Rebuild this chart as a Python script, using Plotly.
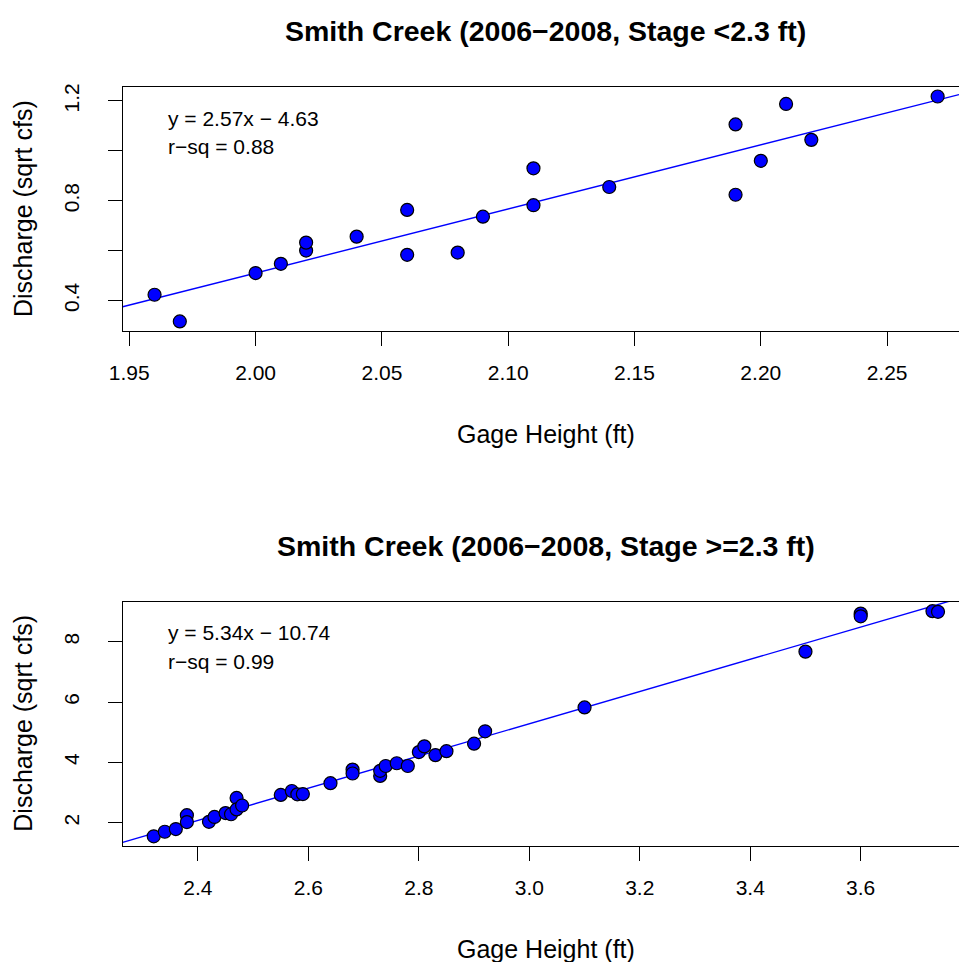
import plotly.graph_objects as go

# ---------------- data ----------------
top_x = [1.96, 1.97, 2.00, 2.01, 2.02, 2.02, 2.04, 2.06, 2.06, 2.08, 2.09, 2.11, 2.11,
         2.14, 2.19, 2.19, 2.20, 2.21, 2.22, 2.27]
top_y = [0.423, 0.316, 0.510, 0.547, 0.600, 0.632, 0.656, 0.763, 0.583, 0.592, 0.736, 0.930, 0.782,
         0.855, 1.106, 0.824, 0.960, 1.188, 1.044, 1.218]

bot_x = [2.32, 2.34, 2.36, 2.38, 2.38, 2.42, 2.43, 2.45, 2.46, 2.47, 2.47, 2.48,
         2.55, 2.57, 2.58, 2.59, 2.64, 2.68, 2.68, 2.73, 2.73, 2.74, 2.76, 2.78,
         2.80, 2.81, 2.83, 2.85, 2.90, 2.92, 3.10, 3.50, 3.60, 3.60, 3.73, 3.74]
bot_y = [1.55, 1.70, 1.79, 2.25, 2.02, 2.03, 2.19, 2.32, 2.28, 2.82, 2.44, 2.57,
         2.92, 3.05, 2.94, 2.95, 3.31, 3.76, 3.63, 3.55, 3.72, 3.88, 3.97, 3.88,
         4.34, 4.53, 4.24, 4.37, 4.62, 5.03, 5.82, 7.67, 8.93, 8.84, 9.01, 8.99]

top_fit = (2.57, -4.63)
bot_fit = (5.34, -10.74)

top_xticks = [1.95, 2.00, 2.05, 2.10, 2.15, 2.20, 2.25]
top_xtext = ["1.95", "2.00", "2.05", "2.10", "2.15", "2.20", "2.25"]
top_yticks = [0.4, 0.6, 0.8, 1.0, 1.2]
top_ytext = ["0.4", "", "0.8", "", "1.2"]
bot_xticks = [2.4, 2.6, 2.8, 3.0, 3.2, 3.4, 3.6]
bot_xtext = ["2.4", "2.6", "2.8", "3.0", "3.2", "3.4", "3.6"]
bot_yticks = [2, 4, 6, 8]
bot_ytext = ["2", "4", "6", "8"]

titles = ["Smith Creek (2006\u22122008, Stage <2.3 ft)",
          "Smith Creek (2006\u22122008, Stage >=2.3 ft)"]
eq_text = [["y = 2.57x \u2212 4.63", "r\u2212sq = 0.88"],
           ["y = 5.34x \u2212 10.74", "r\u2212sq = 0.99"]]
xlab = "Gage Height (ft)"
ylab = "Discharge (sqrt cfs)"

# ---------------- layout geometry (pixels) ----------------
W, H = 959, 962
FONT = "Liberation Sans, Arial, sans-serif"
left_px = 122.7
panels = [
    dict(top=87.3, bottom=330.7, xr=(1.94739, 2.27846), yr=(0.2788, 1.2548)),
    dict(top=601.7, bottom=845.7, xr=(2.2638, 3.7780), yr=(1.2377, 9.325)),
]

def px_x(p):
    return p / W

def px_y(p):
    return 1 - p / H

fig = go.Figure()

datasets = [(top_x, top_y, top_fit), (bot_x, bot_y, bot_fit)]
for i, (xs, ys, fit) in enumerate(datasets):
    xa = "x" if i == 0 else "x2"
    ya = "y" if i == 0 else "y2"
    xr = panels[i]["xr"]
    lx = [xr[0], xr[1]]
    ly = [fit[0] * v + fit[1] for v in lx]
    fig.add_trace(go.Scatter(x=lx, y=ly, mode="lines", xaxis=xa, yaxis=ya,
                             line=dict(color="#0000FF", width=1.4), showlegend=False,
                             hoverinfo="skip"))
    fig.add_trace(go.Scatter(x=xs, y=ys, mode="markers", xaxis=xa, yaxis=ya,
                             marker=dict(color="#0000FF", size=13,
                                         line=dict(color="black", width=1.2)),
                             showlegend=False, cliponaxis=False))

axis_common = dict(showgrid=False, zeroline=False, showline=True, linecolor="black",
                   linewidth=1.2, ticks="outside", ticklen=14, tickwidth=1.2,
                   tickcolor="black", automargin=False,
                   tickfont=dict(family=FONT, size=21, color="black"))

layout = dict(width=W, height=H, margin=dict(l=0, r=0, t=0, b=0, pad=0), autosize=False,
              paper_bgcolor="white", plot_bgcolor="white", showlegend=False)

tick_data = [(top_xticks, top_xtext, top_yticks, top_ytext),
             (bot_xticks, bot_xtext, bot_yticks, bot_ytext)]
annotations = []
for i, p in enumerate(panels):
    sfx = "" if i == 0 else "2"
    xt, xtt, yt, ytt = tick_data[i]
    layout["xaxis" + sfx] = dict(axis_common, domain=[px_x(left_px), 1.0], range=list(p["xr"]),
                                 anchor="y" + sfx, mirror=True, tickvals=xt, ticktext=xtt,
                                 ticklabelstandoff=9)
    layout["yaxis" + sfx] = dict(axis_common, domain=[px_y(p["bottom"]), px_y(p["top"])],
                                 range=list(p["yr"]), anchor="x" + sfx, mirror=False,
                                 tickvals=yt, ticktext=ytt, tickangle=-90,
                                 ticklabelstandoff=20)
    cx = (left_px + 969.0) / 2
    annotations.append(dict(text="<b>" + titles[i] + "</b>", xref="paper", yref="paper",
                            x=px_x(cx), y=px_y(p["top"] - 56), xanchor="center", yanchor="middle",
                            showarrow=False, font=dict(family=FONT, size=28.5, color="black")))
    annotations.append(dict(text=xlab, xref="paper", yref="paper",
                            x=px_x(cx), y=px_y(p["bottom"] + 103), xanchor="center", yanchor="middle",
                            showarrow=False, font=dict(family=FONT, size=25, color="black")))
    annotations.append(dict(text=ylab, xref="paper", yref="paper", textangle=-90,
                            x=px_x(23), y=px_y((p["top"] + p["bottom"]) / 2),
                            xanchor="center", yanchor="middle",
                            showarrow=False, font=dict(family=FONT, size=25, color="black")))
    for j, t in enumerate(eq_text[i]):
        annotations.append(dict(text=t, xref="paper", yref="paper",
                                x=px_x(165.5), y=px_y(p["top"] + 31 + 28.5 * j),
                                xanchor="left", yanchor="middle", showarrow=False,
                                font=dict(family=FONT, size=21, color="black")))
layout["annotations"] = annotations
fig.update_layout(**layout)
fig.write_html("out.html")
